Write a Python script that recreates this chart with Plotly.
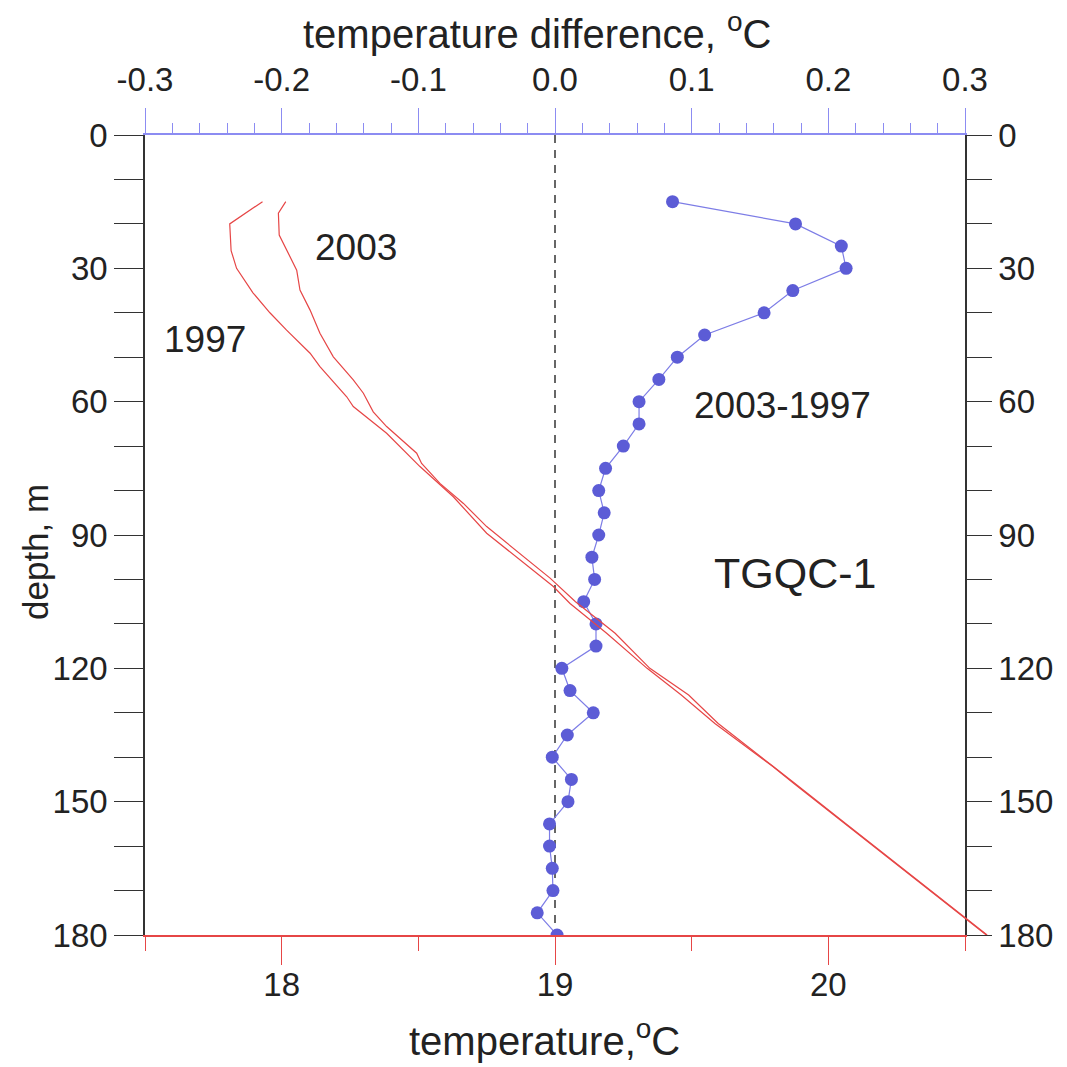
import plotly.graph_objects as go

# ---------------- data ----------------
diff_depth = [15, 20, 25, 30, 35, 40, 45, 50, 55, 60, 65, 70, 75, 80, 85, 90, 95,
              100, 105, 110, 115, 120, 125, 130, 135, 140, 145, 150, 155, 160, 165, 170, 175, 180]
diff_value = [0.086, 0.176, 0.2095, 0.213, 0.174, 0.153, 0.1095, 0.0895, 0.076, 0.0615, 0.0615,
              0.050, 0.037, 0.032, 0.036, 0.032, 0.027, 0.029, 0.021, 0.030, 0.030, 0.005,
              0.011, 0.028, 0.009, -0.002, 0.012, 0.0095, -0.004, -0.004, -0.002, -0.0015,
              -0.013, 0.0015]

t1997_depth = [15, 20, 26, 30, 35.5, 40, 43.9, 49.1, 52.1, 58.9, 61.1, 67.1, 74.6, 81.4, 89.6,
               95.6, 101.6, 105.4, 112.1, 120, 126, 132.4, 142.1, 145.9, 155.25, 160.1, 166.1,
               172.1, 176.2, 180]
t1997_value = [17.93, 17.81, 17.815, 17.835, 17.895, 17.957, 18.018, 18.104, 18.140, 18.238,
               18.262, 18.384, 18.506, 18.628, 18.750, 18.872, 18.994, 19.055, 19.189, 19.337,
               19.462, 19.585, 19.797, 19.874, 20.066, 20.167, 20.291, 20.415, 20.500, 20.578]

t2003_depth = [15, 17.6, 22.5, 26.6, 30.4, 34.9, 39.4, 44.6, 49.9, 55.1, 58.1, 62.3, 65.6, 71.6,
               73.9, 78.4, 82.9, 88.1, 94.1, 99.7, 105, 112.1, 120, 126, 132.4, 142.1, 145.9,
               155.25, 160.1, 166.1, 172.1, 176.2, 180]
t2003_value = [18.015, 17.988, 17.991, 18.024, 18.055, 18.067, 18.104, 18.140, 18.189, 18.262,
               18.299, 18.335, 18.384, 18.494, 18.512, 18.579, 18.665, 18.750, 18.872, 18.982,
               19.075, 19.220, 19.347, 19.489, 19.597, 19.801, 19.878, 20.070, 20.170, 20.294,
               20.418, 20.503, 20.581]

temp_ticks = [18, 19, 20]
temp_ticklabels = ["18", "19", "20"]
temp_minor = [17.5, 18.5, 19.5, 20.5]
diff_ticks = [-0.3, -0.2, -0.1, 0.0, 0.1, 0.2, 0.3]
diff_ticklabels = ["-0.3", "-0.2", "-0.1", "0.0", "0.1", "0.2", "0.3"]
depth_ticks = [0, 30, 60, 90, 120, 150, 180]
depth_ticklabels = ["0", "30", "60", "90", "120", "150", "180"]

# ---------------- style ----------------
FONT = "Liberation Sans, Arial, sans-serif"
RED = "#e64646"
BLUE_M = "#5c5cd6"
BLUE_L = "#7d7de6"
BLUE_AX = "#8c8cf2"
INK = "#222222"
AXC = "#333333"
TICK_FS = 33
TITLE_FS = 40

W = 1067
ML, MR, MT, MB = 145, 70, 135, 132
plot_w = W - ML - MR
plot_h = 1067 - MT - MB
main_frac = 820 / plot_w
px_per_deg = 820 / 3.0
x3_max = 17.5 + plot_w / px_per_deg


def px_x(px):
    return (px - ML) / plot_w


def px_y(py):
    return (1067 - MB - py) / plot_h


fig = go.Figure()

fig.add_trace(go.Scatter(x=t1997_value, y=t1997_depth, mode="lines",
                         line=dict(color=RED, width=1.2), xaxis="x3", yaxis="y",
                         hoverinfo="skip"))
fig.add_trace(go.Scatter(x=t2003_value, y=t2003_depth, mode="lines",
                         line=dict(color=RED, width=1.2), xaxis="x3", yaxis="y",
                         hoverinfo="skip"))
fig.add_trace(go.Scatter(x=diff_value, y=diff_depth, mode="lines+markers",
                         line=dict(color=BLUE_L, width=1.2),
                         marker=dict(color=BLUE_M, size=13, symbol="circle"),
                         xaxis="x2", yaxis="y"))
fig.add_trace(go.Scatter(x=[None], y=[None], xaxis="x", yaxis="y2", showlegend=False,
                         hoverinfo="skip"))

fig.add_shape(type="line", xref="x2", yref="y", x0=0, x1=0, y0=0, y1=180,
              line=dict(color="#666666", width=2, dash="8px,7px"), layer="below")

tickfont = dict(family=FONT, size=TICK_FS, color=INK)

fig.update_layout(
    width=1067, height=1067,
    margin=dict(l=ML, r=MR, t=MT, b=MB),
    paper_bgcolor="white", plot_bgcolor="rgba(0,0,0,0)",
    showlegend=False,
    xaxis=dict(domain=[0, main_frac], range=[17.5, 20.5], anchor="y",
               tickmode="array", tickvals=temp_ticks, ticktext=temp_ticklabels,
               ticks="outside", ticklen=28, tickwidth=1.3, tickcolor=RED,
               minor=dict(tickmode="array", tickvals=temp_minor, ticks="outside",
                          ticklen=14, tickwidth=1.3, tickcolor=RED),
               showline=True, linecolor=RED, linewidth=1.5,
               showgrid=False, zeroline=False, tickfont=tickfont,
               ticklabelstandoff=-8),
    xaxis2=dict(overlaying="x", side="top", anchor="y", range=[-0.3, 0.3],
                tickmode="array", tickvals=diff_ticks, ticktext=diff_ticklabels,
                ticks="outside", ticklen=25, tickwidth=1.3, tickcolor=BLUE_AX,
                minor=dict(tickmode="linear", tick0=-0.3, dtick=0.02, ticks="outside",
                           ticklen=10, tickwidth=1.3, tickcolor=BLUE_AX),
                showline=True, linecolor=BLUE_AX, linewidth=1.5,
                showgrid=False, zeroline=False, tickfont=tickfont,
                ticklabelstandoff=4),
    xaxis3=dict(domain=[0, 1], range=[17.5, x3_max], anchor="y", visible=False),
    yaxis=dict(range=[180, 0], anchor="x",
               tickmode="array", tickvals=depth_ticks, ticktext=depth_ticklabels,
               ticks="outside", ticklen=29, tickwidth=1.3, tickcolor=AXC,
               minor=dict(tickmode="linear", tick0=0, dtick=10, ticks="outside",
                          ticklen=29, tickwidth=1.3, tickcolor=AXC),
               showline=True, linecolor=AXC, linewidth=1.5,
               showgrid=False, zeroline=False, tickfont=tickfont),
    yaxis2=dict(overlaying="y", side="right", anchor="x", range=[180, 0],
                tickmode="array", tickvals=depth_ticks, ticktext=depth_ticklabels,
                ticks="outside", ticklen=25, tickwidth=1.3, tickcolor=AXC,
                minor=dict(tickmode="linear", tick0=0, dtick=10, ticks="outside",
                           ticklen=25, tickwidth=1.3, tickcolor=AXC),
                showline=True, linecolor=AXC, linewidth=1.5,
                showgrid=False, zeroline=False, tickfont=tickfont),
)

# axis titles
fig.add_annotation(x=px_x(537), y=px_y(31), xref="paper", yref="paper",
                   text="temperature difference, <sup>o</sup>C", showarrow=False,
                   xanchor="center", yanchor="middle",
                   font=dict(family=FONT, size=TITLE_FS, color=INK))
fig.add_annotation(x=px_x(544), y=px_y(1038), xref="paper", yref="paper",
                   text="temperature,<sup>o</sup>C", showarrow=False,
                   xanchor="center", yanchor="middle",
                   font=dict(family=FONT, size=TITLE_FS, color=INK))
fig.add_annotation(x=px_x(35), y=px_y(552), xref="paper", yref="paper",
                   text="depth, m", showarrow=False, textangle=-90,
                   xanchor="center", yanchor="middle",
                   font=dict(family=FONT, size=35, color=INK))

# in-plot labels
ann_font = dict(family=FONT, size=37, color=INK)
fig.add_annotation(x=18.272, y=25.4, xref="x", yref="y", text="2003", showarrow=False,
                   font=ann_font)
fig.add_annotation(x=17.72, y=46.1, xref="x", yref="y", text="1997", showarrow=False,
                   font=ann_font)
fig.add_annotation(x=19.834, y=60.75, xref="x", yref="y", text="2003-1997", showarrow=False,
                   font=ann_font)
fig.add_annotation(x=19.878, y=98.6, xref="x", yref="y", text="TGQC-1", showarrow=False,
                   font=dict(family=FONT, size=43, color=INK))

fig.write_html("out.html")
